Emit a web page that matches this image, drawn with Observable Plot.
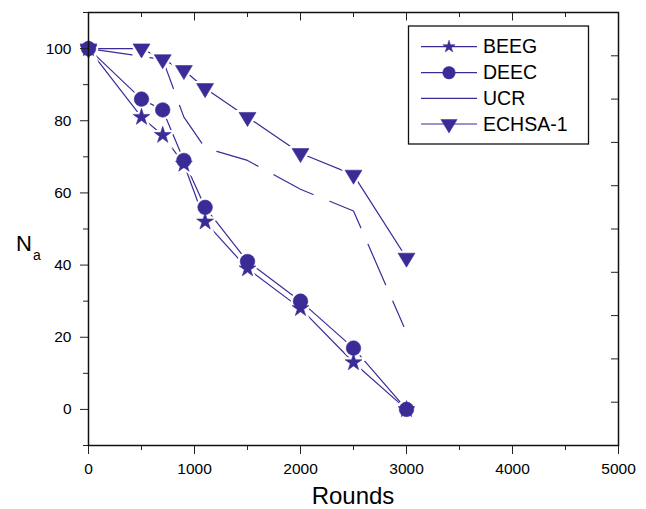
<!DOCTYPE html>
<html><head><meta charset="utf-8">
<script src="https://cdn.jsdelivr.net/npm/d3@7"></script>
<script src="https://cdn.jsdelivr.net/npm/@observablehq/plot@0.6"></script>
<style>body{margin:0;background:#fff} #chart svg{font-family:"Liberation Sans",Arial,Helvetica,sans-serif;display:block}</style>
</head><body><div id="chart"></div>
<script>
// ---- data ----
const rounds = [0, 500, 700, 900, 1100, 1500, 2000, 2500, 3000];
const beeg   = [100, 81, 76, 68, 52, 39, 28, 13, 0];
const deec   = [100, 86, 83, 69, 56, 41, 30, 17, 0];
const echsa  = [100, 100, 97, 94, 89, 81, 71, 65, 42];
const ucrRounds = [0, 700, 900, 1100, 1500, 2000, 2500, 2975];
const ucr       = [100, 97, 81, 72.5, 69, 61, 55, 23];
const seriesNames = ["BEEG", "DEEC", "UCR", "ECHSA-1"];
const xMajor = [0, 1000, 2000, 3000, 4000, 5000];
const xMinor = [500, 1500, 2500, 3500, 4500];
const yMajor = [0, 20, 40, 60, 80, 100];
const yMinor = [-10, 10, 30, 50, 70, 90, 110];
const yRightTicks = [-10, 2, 14, 26, 38, 50, 62, 74, 86, 98, 110];

const C = "#3a2c97";
const rows = (xs, ys, name) => xs.map((x, i) => ({x, y: ys[i], name}));
const dB = rows(rounds, beeg, seriesNames[0]);
const dD = rows(rounds, deec, seriesNames[1]);
const dU = rows(ucrRounds, ucr, seriesNames[2]);
const dE = rows(rounds, echsa, seriesNames[3]);

const triDown = {
  draw(ctx, size) {
    const r = Math.sqrt(size / Math.PI);
    const w = r * 1.13, h = r * 1.87;
    ctx.moveTo(-w, -h / 3); ctx.lineTo(w, -h / 3); ctx.lineTo(0, 2 * h / 3); ctx.closePath();
  }
};

const lineOpt = {x: "x", y: "y", stroke: C, strokeWidth: 1.2};
const halo = {x: "x", y: "y", fill: "white", stroke: "white", strokeWidth: 5};
const mk = {x: "x", y: "y", fill: C, stroke: C, strokeWidth: 0.6};

const plot = Plot.plot({
  width: 646, height: 509,
  marginLeft: 88, marginRight: 28, marginTop: 12, marginBottom: 64,
  x: {domain: [0, 5000]},
  y: {domain: [-10, 110]},
  style: {fontFamily: "'Liberation Sans', Arial, sans-serif", fontSize: "16px", color: "#000", background: "#fff"},
  marks: [
    Plot.line(dB, lineOpt),
    Plot.line(dD, lineOpt),
    Plot.line(dE, lineOpt),
    Plot.line(dU, {...lineOpt, strokeDasharray: "44,18"}),
    Plot.dot(dB, {...halo, symbol: "star", r: 5.3}),
    Plot.dot(dE, {...halo, symbol: triDown, r: 7.5}),
    Plot.dot(dD, {...halo, symbol: "circle", r: 7.3}),
    Plot.dot(dB, {...mk, symbol: "star", r: 5.3}),
    Plot.dot(dE, {...mk, symbol: triDown, r: 7.5}),
    Plot.dot(dD, {...mk, symbol: "circle", r: 7.3}),
    Plot.axisX({ticks: xMajor, tickSize: 9, tickPadding: 8, fontSize: 15.5, tickFormat: d => String(d), label: null, stroke: "#222", fill: "#000"}),
    Plot.axisX({ticks: xMinor, tickSize: 5, text: null, label: null, stroke: "#222"}),
    Plot.axisX({anchor: "top", ticks: xMajor, tickSize: -7.5, text: null, label: null, stroke: "#222"}),
    Plot.axisX({anchor: "top", ticks: xMinor, tickSize: -4, text: null, label: null, stroke: "#222"}),
    Plot.axisY({ticks: yMajor, tickSize: 8, tickPadding: 9, fontSize: 15.5, tickFormat: d => String(d), label: null, stroke: "#222", fill: "#000"}),
    Plot.axisY({ticks: yMinor, tickSize: 5, text: null, label: null, stroke: "#222"}),
    Plot.axisY({anchor: "right", ticks: yRightTicks, tickSize: -8, text: null, label: null, stroke: "#222"}),
    Plot.frame({stroke: "#111", strokeWidth: 1.5})
  ]
});
document.getElementById("chart").appendChild(plot);

// ---- titles and legend ----
const svg = d3.select(plot);
const yl = svg.append("text").attr("x", 16).attr("y", 251).attr("fill", "#000").attr("text-anchor", "start");
yl.append("tspan").attr("font-size", 22).text("N");
yl.append("tspan").attr("font-size", 14).attr("dy", 9).attr("dx", 1).text("a");
svg.append("text").attr("x", 353).attr("y", 504).attr("text-anchor", "middle")
  .attr("font-size", 24).attr("fill", "#000").text("Rounds");

const lg = svg.append("g").attr("text-anchor", "start");
lg.append("rect").attr("x", 408.5).attr("y", 26).attr("width", 180).attr("height", 118)
  .attr("fill", "white").attr("stroke", "#111").attr("stroke-width", 1.3);
const legendSyms = [d3.symbol(d3.symbolStar, 6.5*6.5/0.8908)(), d3.symbol(d3.symbolCircle, Math.PI*6.3*6.3)(), null, d3.symbol(triDown, Math.PI*7.2*7.2)()];
const rowsY = [46.7, 72.7, 98.3, 124];
seriesNames.forEach((n, i) => {
  const y = rowsY[i];
  lg.append("line").attr("x1", 421).attr("x2", 477).attr("y1", y).attr("y2", y).attr("stroke", C).attr("stroke-width", 1.2);
  if (legendSyms[i]) lg.append("path").attr("d", legendSyms[i]).attr("transform", `translate(449,${y})`).attr("fill", C).attr("stroke", C).attr("stroke-width", 0.5);
  lg.append("text").attr("x", 483).attr("y", y + 6.5).attr("text-anchor", "start").attr("font-size", 19.5).attr("fill", "#000").text(n);
});
</script>
</body></html>
